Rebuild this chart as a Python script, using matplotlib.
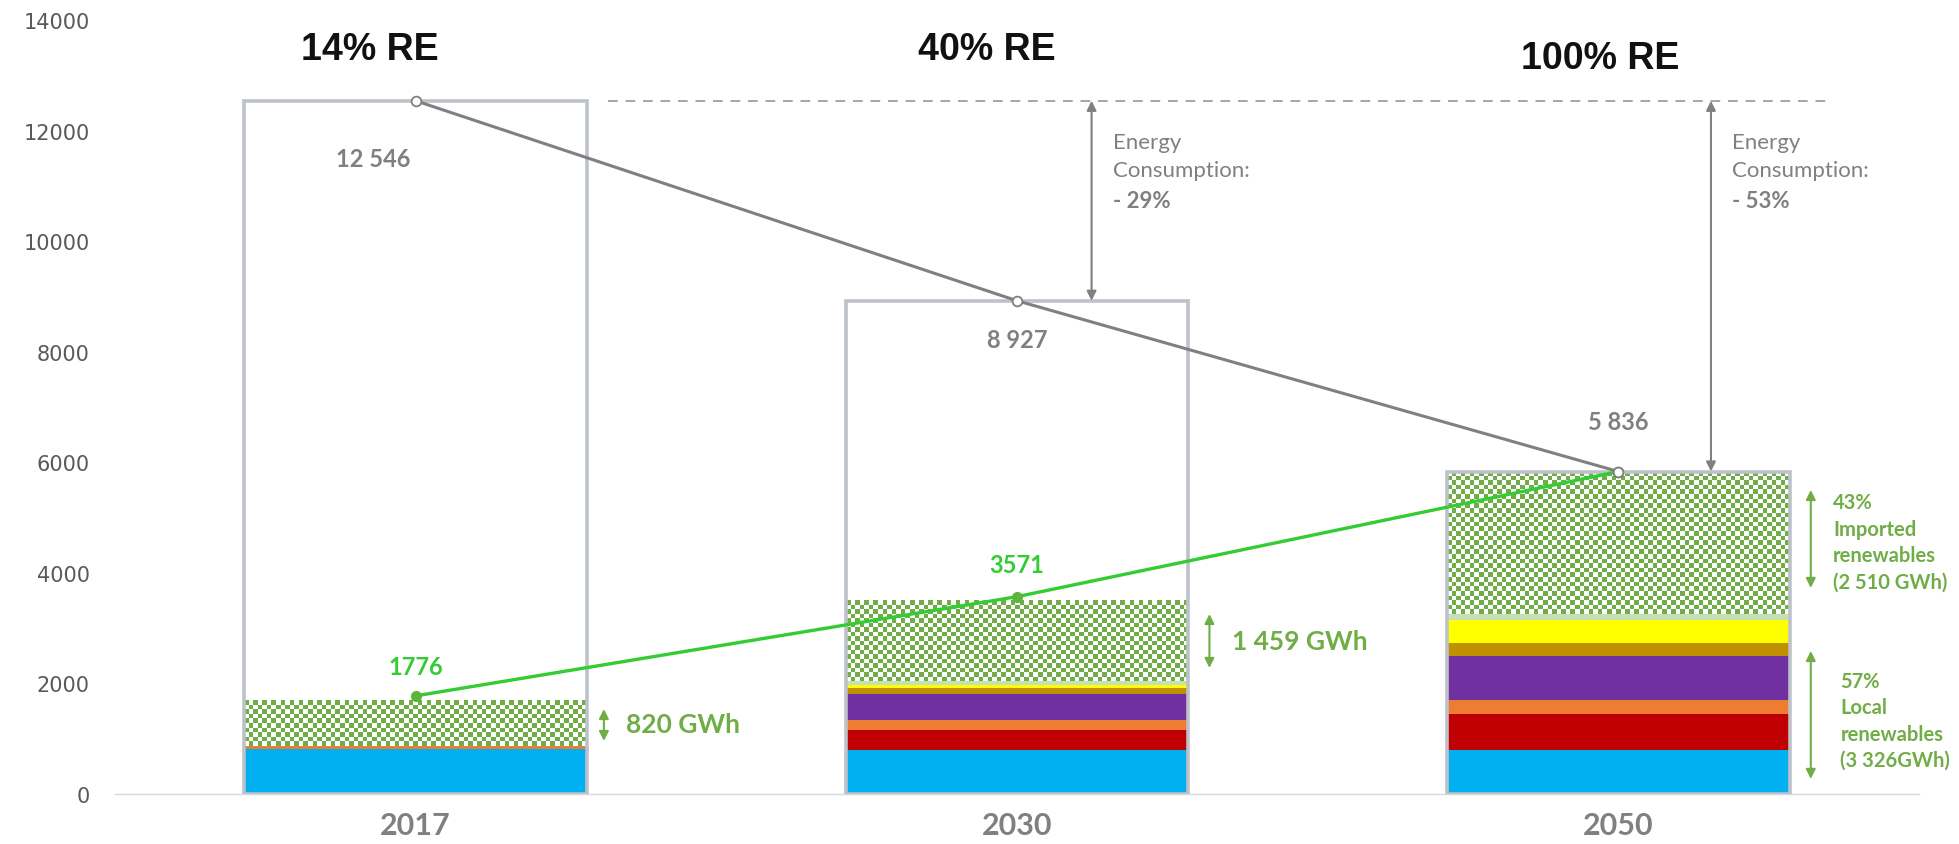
# Energy consumption vs renewable share – stacked bars with consumption outline

import numpy as np
import matplotlib
matplotlib.use("Agg")
import matplotlib.pyplot as plt
from matplotlib.colors import ListedColormap

years = ["2017", "2030", "2050"]
re_labels = ["14% RE", "40% RE", "100% RE"]
consumption = [12546, 8927, 5836]
consumption_labels = ["12 546", "8 927", "5 836"]
re_total = [1776, 3571, 5836]
re_total_labels = ["1776", "3571"]

# local renewable layers (bottom to top), GWh
hydro = [815, 800, 800]
red_layer = [0, 360, 644]
orange_layer = [45, 170, 253]
purple_layer = [0, 475, 796]
gold_layer = [0, 110, 248]
yellow_layer = [0, 60, 400]
pale_layer = [0, 75, 110]
imported = [820, 1459, 2585]

layers = [hydro, red_layer, orange_layer, purple_layer, gold_layer, yellow_layer, pale_layer]
layer_colors = ["#00B0F0", "#C00000", "#ED7D31", "#7030A0", "#BF9000", "#FFFF00", "#C5E0B4"]

reduction_labels = ["- 29%", "- 53%"]
imported_note = ["820 GWh", "1 459 GWh"]

GREEN_TXT = "#70AD47"
GREEN_LINE = "#33CC33"
GREY = "#808080"

plt.rcParams["font.family"] = ["Lato", "DejaVu Sans"]

fig = plt.figure(figsize=(19.59, 8.45), dpi=100)
ax = fig.add_axes([0.0587, 0.0592, 0.9209, 0.9154])
x = np.arange(len(years))
width = 0.57

ax.set_xlim(-0.5, 2.5)
ax.set_ylim(0, 14000)

bottom = np.zeros(len(years))
for vals, col in zip(layers, layer_colors):
    ax.bar(x, vals, width, bottom=bottom, color=col, zorder=2, linewidth=0)
    bottom += np.array(vals)

# checkerboard fill for imported renewables
hatched = ax.bar(x, imported, width, bottom=bottom, color="none", zorder=2, linewidth=0)
cmap = ListedColormap(["white", GREEN_TXT])
for p in hatched:
    x0, y0, w, h = p.get_x(), p.get_y(), p.get_width(), p.get_height()
    (px0, py0), (px1, py1) = ax.transData.transform([(x0, y0), (x0 + w, y0 + h)])
    nx = max(1, int(round((px1 - px0) / 4.6)))
    ny = max(1, int(round((py1 - py0) / 4.6)))
    board = np.add.outer(np.arange(ny), np.arange(nx)) % 2
    ax.imshow(board, cmap=cmap, extent=(x0, x0 + w, y0, y0 + h), aspect="auto",
              interpolation="nearest", origin="lower", zorder=2)

# consumption outline boxes
ax.bar(x, consumption, width, color="none", edgecolor="#BDC1CA", linewidth=2.6, zorder=3)

ax.set_xlim(-0.5, 2.5)
ax.set_ylim(0, 14000)

# lines
ax.plot(x, consumption, color=GREY, lw=2.2, zorder=5, marker="o", ms=7,
        mfc="white", mec=GREY, mew=1.3)
ax.plot(x, re_total, color=GREEN_LINE, lw=2.4, zorder=4, marker="o", ms=7,
        mfc="#5BB53B", mec="#5BB53B")
ax.plot(x[-1], consumption[-1], marker="o", ms=7, mfc="white", mec=GREY, mew=1.3, zorder=6)

# value labels
cons_y = [11510, 8217, 6742]
cons_dx = [-0.07, 0, 0]
for xi, dx, yi, lab in zip(x, cons_dx, cons_y, consumption_labels):
    ax.text(xi + dx, yi, lab, ha="center", va="center", color=GREY, fontsize=17,
            fontweight="bold")
re_y = [2308, 4145]
for xi, yi, lab in zip(x[:2], re_y, re_total_labels):
    ax.text(xi, yi, lab, ha="center", va="center", color=GREEN_LINE, fontsize=17,
            fontweight="bold")

# titles
title_x = [-0.076, 0.95, 1.969]
title_y = [13490, 13490, 13320]
for xi, yi, lab in zip(title_x, title_y, re_labels):
    ax.text(xi, yi, lab, ha="center", va="center", fontsize=27, fontweight="bold",
            color="#111111", family="Liberation Sans")

# dashed reference line at 2017 consumption
ax.plot([0.32, 2.355], [consumption[0], consumption[0]], color="#A6A6A6", lw=1.4,
        ls=(0, (5, 4)), zorder=1)

# consumption reduction arrows
arrow_x = [1.124, 2.154]
for xi, target, lab in zip(arrow_x, consumption[1:], reduction_labels):
    ax.annotate("", xy=(xi, target), xytext=(xi, consumption[0]),
                arrowprops=dict(arrowstyle="<|-|>", color=GREY, lw=1.5, mutation_scale=14,
                                shrinkA=0, shrinkB=0), zorder=4)
    ax.text(xi + 0.035, 11990, "Energy\nConsumption:", ha="left", va="top", color=GREY,
            fontsize=16, linespacing=1.55)
    ax.text(xi + 0.035, 10940, lab, ha="left", va="top", color=GREY, fontsize=16,
            fontweight="bold")

# imported renewables arrows (2017, 2030)
ann_x = [0.313, 1.32]
ann_span = [(959, 1538), (2281, 3258)]
ann_txt_y = [1267, 2769]
for xi, (lo, hi), ty, lab in zip(ann_x, ann_span, ann_txt_y, imported_note):
    ax.annotate("", xy=(xi, lo), xytext=(xi, hi),
                arrowprops=dict(arrowstyle="<|-|>", color=GREEN_TXT, lw=1.5, mutation_scale=14,
                                shrinkA=0, shrinkB=0))
    ax.text(xi + 0.037, ty, lab, ha="left", va="center", color=GREEN_TXT, fontsize=19,
            fontweight="bold")

# 2050 split arrows
ax.annotate("", xy=(2.32, 3729), xytext=(2.32, 5502),
            arrowprops=dict(arrowstyle="<|-|>", color=GREEN_TXT, lw=1.5, mutation_scale=14,
                            shrinkA=0, shrinkB=0))
ax.annotate("", xy=(2.32, 272), xytext=(2.32, 2588),
            arrowprops=dict(arrowstyle="<|-|>", color=GREEN_TXT, lw=1.5, mutation_scale=14,
                            shrinkA=0, shrinkB=0))
ax.text(2.357, 5460, "43%\nImported\nrenewables\n(2 510 GWh)", ha="left", va="top",
        color=GREEN_TXT, fontsize=14.5, fontweight="bold", linespacing=1.4)
ax.text(2.369, 2230, "57%\nLocal\nrenewables\n(3 326GWh)", ha="left", va="top",
        color=GREEN_TXT, fontsize=14.5, fontweight="bold", linespacing=1.4)

# axes styling
ax.set_xticks(x)
ax.set_xticklabels(years, fontsize=22, fontweight="bold", color=GREY)
ax.set_yticks(np.arange(0, 14001, 2000))
ax.set_yticklabels([str(v) for v in range(0, 14001, 2000)], fontsize=15, color="#595959",
                   family="DejaVu Sans")
ax.tick_params(axis="x", length=0, pad=12)
ax.tick_params(axis="y", length=0, pad=18)
for s in ["top", "right", "left"]:
    ax.spines[s].set_visible(False)
ax.spines["bottom"].set_color("#D9D9D9")
ax.spines["bottom"].set_linewidth(1)

fig.savefig("out.png", dpi=100)
plt.close(fig)
